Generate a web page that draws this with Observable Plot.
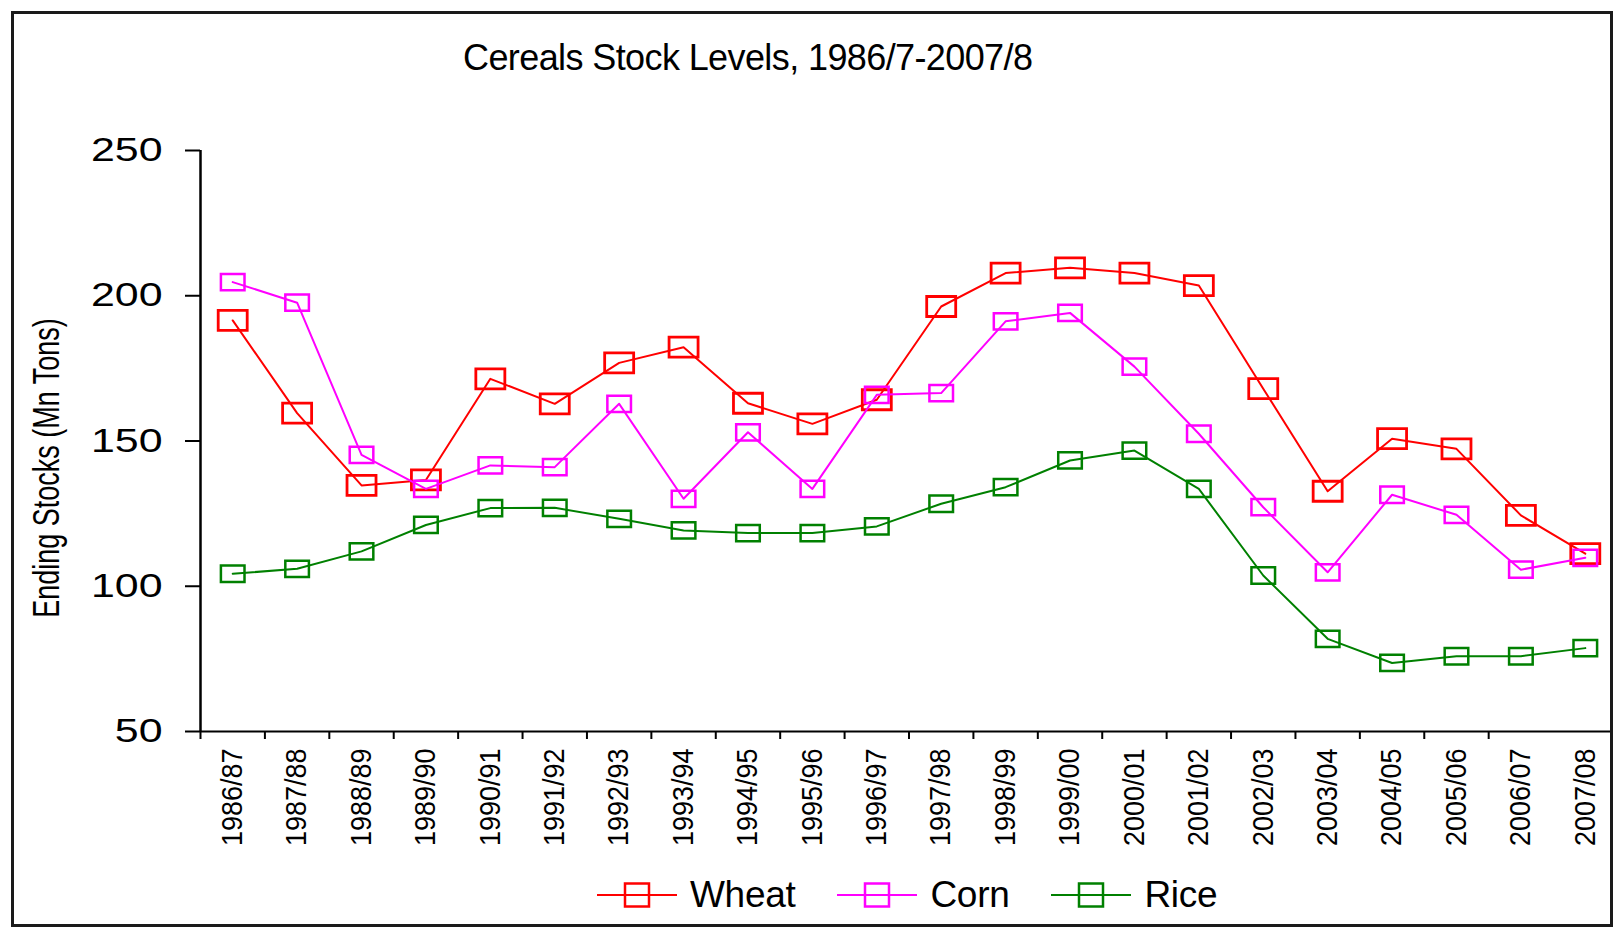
<!DOCTYPE html>
<html>
<head>
<meta charset="utf-8">
<script src="https://cdn.jsdelivr.net/npm/d3@7"></script>
<script src="https://cdn.jsdelivr.net/npm/@observablehq/plot@0.6"></script>
<style>
html, body { margin: 0; padding: 0; background: #fff; }
body { width: 1614px; height: 930px; position: relative; overflow: hidden; font-family: "Liberation Sans", Arial, sans-serif; color: #000; }
#frame { position: absolute; left: 11px; top: 11px; width: 1602px; height: 916px; box-sizing: border-box; border: 3px solid #1a1a1a; }
#chart { position: absolute; left: 0; top: 0; }
#title { position: absolute; left: 463px; top: 40px; font-size: 36px; line-height: 36px; letter-spacing: -0.6px; white-space: nowrap; }
#legend { position: absolute; left: 597px; top: 880px; height: 30px; display: flex; align-items: center; }
.item { display: flex; align-items: center; margin-right: 42px; }
.item span { margin-left: 13px; font-size: 37px; line-height: 30px; letter-spacing: -0.3px; white-space: nowrap; }
</style>
</head>
<body>
<div id="chart"></div>
<div id="title">Cereals Stock Levels, 1986/7-2007/8</div>
<div id="legend"></div>
<div id="frame"></div>
<script>
const categories = ["1986/87","1987/88","1988/89","1989/90","1990/91","1991/92","1992/93","1993/94","1994/95","1995/96","1996/97","1997/98","1998/99","1999/00","2000/01","2001/02","2002/03","2003/04","2004/05","2005/06","2006/07","2007/08"];
const wheat = [191.5,159.6,134.7,136.6,171.4,162.8,176.9,182.3,163,155.9,164.2,196.3,207.8,209.6,207.8,203.5,168,132.7,150.8,147.3,124.4,111.2];
const corn  = [204.7,197.6,145.2,133.5,141.6,141,162.8,130.1,153,133.5,165.9,166.5,191.2,194.1,175.6,152.5,127.2,104.8,131.5,124.6,105.7,109.8];
const rice  = [104.3,106,112,121.1,126.9,127,123.2,119.2,118.3,118.3,120.6,128.4,134.1,143.3,146.7,133.5,103.7,81.9,73.6,75.9,75.9,78.7];
const seriesNames = ["Wheat","Corn","Rice"];
const seriesColors = ["#ff0000","#ff00ff","#008000"];
const seriesValues = [wheat, corn, rice];
const yTicks = [50,100,150,200,250];
const yLabel = "Ending Stocks (Mn Tons)";

const idx = (d, i) => i;
const rectSymbol = {
  draw(ctx, size) {
    const r = Math.sqrt(size / Math.PI);
    const w = 2 * r, h = w / 1.45;
    ctx.rect(-w / 2, -h / 2, w, h);
  }
};
const markerR = [14.5, 11.8, 11.8];
const markerSW = [2.8, 2.5, 2.5];

const n = categories.length;
const boundaries = d3.range(n - 1).map(i => i - 0.5);

const seriesMarks = [];
seriesValues.forEach((vals, k) => {
  seriesMarks.push(Plot.line(vals, {x: idx, y: d => d, stroke: seriesColors[k], strokeWidth: 2}));
  seriesMarks.push(Plot.dot(vals, {x: idx, y: d => d, symbol: rectSymbol, r: markerR[k], stroke: seriesColors[k], strokeWidth: markerSW[k], fill: "none"}));
});

const svg = Plot.plot({
  width: 1614,
  height: 930,
  marginLeft: 200,
  marginRight: 4,
  marginTop: 150,
  marginBottom: 199,
  style: {fontFamily: '"Liberation Sans", Arial, sans-serif', background: "transparent", color: "#000"},
  x: {type: "linear", domain: [-0.5, n - 0.5], range: [200, 1617]},
  y: {domain: [50, 250]},
  marks: [
    Plot.axisY({ticks: yTicks, tickSize: 15, tickPadding: 23, fontSize: 33, strokeWidth: 2, label: yLabel, labelArrow: "none", labelAnchor: "center", labelOffset: 167}),
    Plot.axisX({ticks: boundaries, tickSize: 8, tickFormat: () => "", strokeWidth: 2, label: null}),
    Plot.axisX({ticks: d3.range(n), tickSize: 0, tickPadding: 17, tickRotate: -90, fontSize: 29, tickFormat: i => categories[i], label: null}),
    Plot.ruleX([-0.5], {stroke: "#000", strokeWidth: 2.5}),
    Plot.ruleY([50], {stroke: "#000", strokeWidth: 2}),
    ...seriesMarks
  ]
});

const s = d3.select(svg);
const appendScale = (el, sc) => {
  const t = el.getAttribute("transform") || "";
  el.setAttribute("transform", t + " " + sc);
};
s.selectAll('g[aria-label="y-axis tick label"] text').each(function() { appendScale(this, "scale(1.3,1)"); });
s.selectAll('g[aria-label="x-axis tick label"] text').each(function() {
  if (this.textContent) appendScale(this, "scale(0.93,1)");
});
s.selectAll("text").each(function() {
  if (this.textContent.indexOf("Ending") === 0) {
    this.textContent = yLabel;
    const t = this.getAttribute("transform") || "";
    this.setAttribute("transform", "translate(0,27) " + t + " scale(0.75,1)");
    this.style.fontSize = "36px";
  }
});
document.getElementById("chart").appendChild(svg);

const legend = d3.select("#legend");
seriesNames.forEach((name, k) => {
  const item = legend.append("div").attr("class", "item");
  const sw = item.append("svg").attr("width", 80).attr("height", 30);
  sw.append("line").attr("x1", 0).attr("x2", 80).attr("y1", 15).attr("y2", 15).attr("stroke", seriesColors[k]).attr("stroke-width", 2);
  sw.append("rect").attr("x", 28).attr("y", 3.5).attr("width", 24).attr("height", 23).attr("fill", "none").attr("stroke", seriesColors[k]).attr("stroke-width", 2.5);
  item.append("span").text(name);
});
</script>
</body>
</html>
